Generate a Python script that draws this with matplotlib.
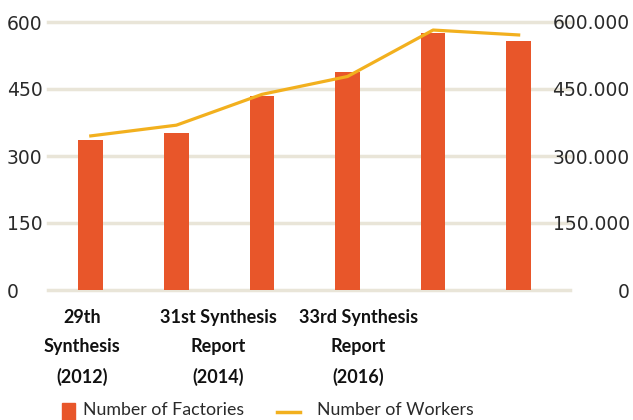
import matplotlib.pyplot as plt
from matplotlib.patches import Rectangle
from matplotlib.lines import Line2D

# data
categories = ['2012', '2013', '2014', '2015', '2016', '2017']
factories = [336, 351, 434, 488, 575, 557]
workers = [345000, 369000, 438000, 478000, 582000, 571000]
group_labels = ['29th\nSynthesis\n(2012)', '31st Synthesis\nReport\n(2014)', '33rd Synthesis\nReport\n(2016)']
left_ticks = [0, 150, 300, 450, 600]
right_ticks = [0, 150000, 300000, 450000, 600000]
legend_labels = ['Number of Factories', 'Number of Workers']

bar_color = '#E8562A'
line_color = '#F2B01E'
grid_color = '#E9E5D8'
text_color = '#2a2a2a'

plt.rcParams['font.family'] = ['DejaVu Sans']

fig = plt.figure(figsize=(6.33, 4.2), dpi=100)
ax = fig.add_axes([48 / 633, 1 - 290 / 420, 522 / 633, 268 / 420])
ax2 = ax.twinx()

x = list(range(len(categories)))
ax.bar(x, factories, width=0.29, color=bar_color, zorder=3)
ax2.plot(x, workers, color=line_color, lw=2.3, zorder=4)

ax.set_xlim(-0.5, 5.6)
ax.set_ylim(0, 600)
ax2.set_ylim(0, 600000)

ax.set_yticks(left_ticks)
ax.set_yticklabels([str(v) for v in left_ticks])
ax2.set_yticks(right_ticks)
ax2.set_yticklabels([f'{v:,.0f}'.replace(',', '.') for v in right_ticks])

ax.grid(axis='y', color=grid_color, lw=2.5, zorder=0)
for gl in ax.get_ygridlines():
    gl.set_clip_on(False)
ax.set_axisbelow(True)
for a in (ax, ax2):
    for s in a.spines.values():
        s.set_visible(False)
    a.tick_params(length=0)

ax.tick_params(axis='y', pad=29.5, labelsize=13.5, labelcolor=text_color)
for t in ax.get_yticklabels():
    t.set_ha('left')
ax2.tick_params(axis='y', pad=43, labelsize=13.5, labelcolor=text_color)
for t in ax2.get_yticklabels():
    t.set_ha('right')

# category group labels under the axis
ax.set_xticks([-0.1, 1.49, 3.13])
ax.set_xticklabels(group_labels, fontsize=13, fontweight='bold', color='#111111',
                   linespacing=1.85, family='Lato')
ax.tick_params(axis='x', pad=14)

# legend drawn by hand, close to the bottom edge like the original
px = fig.dpi_scale_trans
fig.patches.append(Rectangle((0.62, 0.0), 0.13, 0.17, color=bar_color, transform=px))
fig.lines.append(Line2D([2.77, 3.00], [0.08, 0.08], color=line_color, lw=2.5, transform=px))
fig.text(0.83, 0.02, legend_labels[0], transform=px, fontsize=12.8, color=text_color,
         ha='left', va='bottom', family='Lato')
fig.text(3.17, 0.02, legend_labels[1], transform=px, fontsize=12.8, color=text_color,
         ha='left', va='bottom', family='Lato')

fig.savefig('out.png', dpi=100)
